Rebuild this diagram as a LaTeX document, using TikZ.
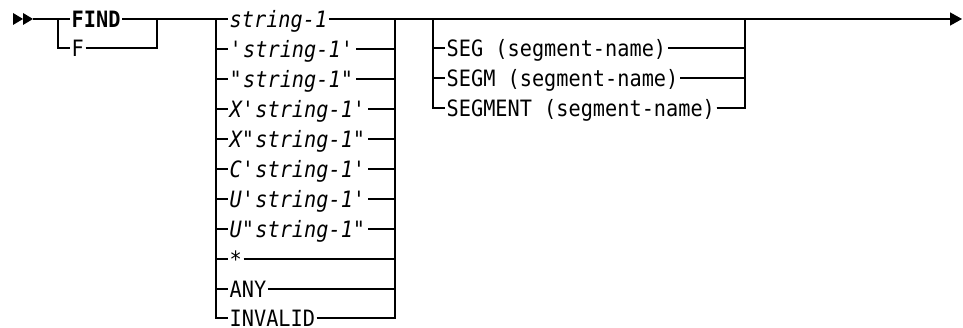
\documentclass[tikz,border=0pt]{standalone}
\usepackage{fontspec}
\newfontfamily\railfont{DejaVu Sans Mono}[FakeStretch=0.9]
\usetikzlibrary{positioning,arrows.meta}

\tikzset{
  rail/.style={line width=1.6pt},
  kw/.style={font=\railfont\fontsize{22.5}{24}\selectfont, anchor=west,
    inner xsep=1.5pt, inner ysep=0pt, text height=16.4pt, text depth=0pt},
  kwbold/.style={kw, font=\railfont\fontsize{22.5}{24}\selectfont\bfseries},
  var/.style={kw, font=\railfont\fontsize{22.5}{24}\selectfont\itshape},
}

\begin{document}
\begin{tikzpicture}[x=1pt,y=-1pt]
      \useasboundingbox (0,0) rectangle (963,328);

      % start marker
      \fill (13,13) -- (23,19) -- (13,25) -- cycle;
      \fill (23,13) -- (33,19) -- (23,25) -- cycle;

      \coordinate (start) at (33,19);
      \coordinate (fL) at (58,19);  \coordinate (fR) at (157,19); % FIND / F
      \coordinate (sL) at (216,19); \coordinate (sR) at (395,19); % strings
      \coordinate (gL) at (433,19); \coordinate (gR) at (745,19); % SEG
      \coordinate (end) at (962,19);

      % FIND or F
      \node[kwbold] (find) at (70,19) {FIND};
      \node[kw] (f) at (70,48) {F};
      \draw[rail] (start) -- (find.west) (find.east) -- (fR);
      \draw[rail] (fL) |- (f.west) (f.east) -| (fR);

      % search strings
      \foreach \t [count=\i from 0] in {string-1,
          \textquotesingle string-1\textquotesingle,
          \textquotedbl string-1\textquotedbl,
          X\textquotesingle string-1\textquotesingle,
          X\textquotedbl string-1\textquotedbl,
          C\textquotesingle string-1\textquotesingle,
          U\textquotesingle string-1\textquotesingle,
          U\textquotedbl string-1\textquotedbl, *}
      {
        \node[var] (s\i) at (228,19+30*\i) {\t};
        \draw[rail] (sL|-s\i.west) -- (s\i.west) (s\i.east) -- (sR|-s\i.east);
      }
      \node[kw] (s9) at (228,289) {ANY};
      \node[kw] (s10) at (228,318) {INVALID};
      \draw[rail] (sL|-s9.west) -- (s9.west) (s9.east) -- (sR|-s9.east);
      \draw[rail] (fR) -- (sL) |- (s10.west) (s10.east) -| (sR);

      % optional segment
      \foreach \t [count=\i] in {SEG,SEGM,SEGMENT}
      {
        \node[kw] (g\i) at (445,18+30*\i) {\t\ (segment-name)};
        \draw[rail] (gL|-g\i.west) -- (g\i.west) (g\i.east) -- (gR|-g\i.east);
      }
      \draw[rail] (sR) -- (gL) |- (g3.west) (g3.east) -| (gR);
      \draw[rail] (gL) -- (gR);

      \draw[rail,-{Triangle[length=12pt,width=13pt]}] (gR) -- (end);

\end{tikzpicture}
\end{document}
